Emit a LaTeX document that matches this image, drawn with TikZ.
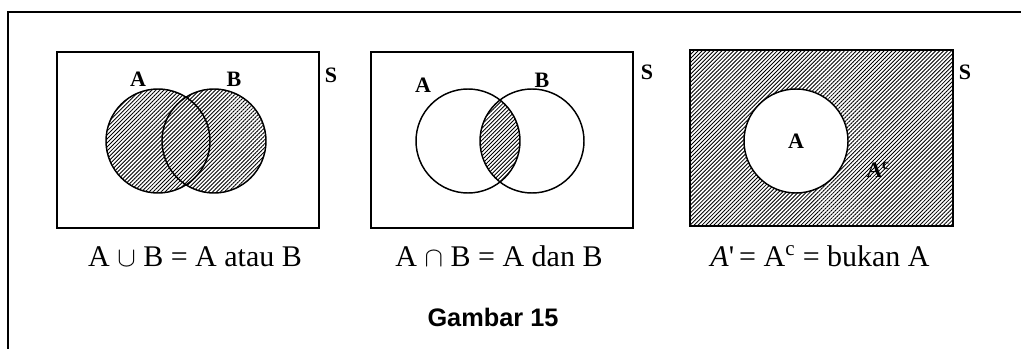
\documentclass[tikz,border=0pt]{standalone}
\usepackage{fontspec}
\setmainfont{Liberation Serif}
\newfontfamily\capfont{Liberation Sans}
\usetikzlibrary{positioning, patterns.meta}

\begin{document}
\begin{tikzpicture}[
    x=0.75pt, y=-0.75pt,
    venn/.style={line width=1.1pt},
    hatch/.style={pattern={Lines[angle=45, distance=2.1pt, line width=0.65pt]}},
    setlabel/.style={font=\bfseries\fontsize{16.5}{19}\selectfont, inner sep=0pt},
    formula/.style={font=\fontsize{22.5}{26}\selectfont, inner sep=0pt, anchor=base}
]
    \useasboundingbox (0,0) rectangle (1021,349);
    % Outer frame
    \draw[line width=1.5pt] (8,349) -- (8,12) -- (1021,12);

    % Union
    \coordinate (u1) at (158,141);
    \coordinate (u2) at (214,141);
    \fill[hatch] (u1) circle (52) (u2) circle (52);
    \draw[venn] (u1) circle (52) (u2) circle (52);
    \draw[venn] (57,52) coordinate (r1nw) rectangle (319,228) coordinate (r1se);
    \node[setlabel] (la1) at (138,79) {A};
    \node[setlabel] (lb1) at (234,79) {B};
    \node[setlabel] (ls1) at (331,75) {S};
    \node[formula] (f1) at (195,267) {A $\cup$ B = A atau B};

    % Intersection
    \coordinate (i1) at (468,141);
    \coordinate (i2) at (532,141);
    \begin{scope}
        \clip (i1) circle (52);
        \fill[hatch] (i2) circle (52);
    \end{scope}
    \draw[venn] (i1) circle (52) (i2) circle (52);
    \draw[venn] (371,52) coordinate (r2nw) rectangle (633,228) coordinate (r2se);
    \node[setlabel] (la2) at (423,85) {A};
    \node[setlabel] (lb2) at (542,80) {B};
    \node[setlabel] (ls2) at (647,72) {S};
    \node[formula] (f2) at (499,267) {A $\cap$ B = A dan B};

    % Complement
    \coordinate (k1) at (796,141);
    \fill[hatch] (690,50) rectangle (953,226);
    \draw[venn] (690,50) coordinate (r3nw) rectangle (953,226) coordinate (r3se);
    \filldraw[venn, fill=white] (k1) circle (52);
    \node[setlabel] (la3) at (k1) {A};
    \node[setlabel] (lc3) at (878,170) {A\textsuperscript{c}};
    \node[setlabel] (ls3) at (965,72) {S};
    \node[formula] (f3) at (820,266) {\textit{A}\textquotesingle\,= A\textsuperscript{c} = bukan A};

    % Caption
    \node[font=\capfont\bfseries\fontsize{19}{23}\selectfont, inner sep=0pt] (title) at (493,317) {Gambar 15};
\end{tikzpicture}
\end{document}
